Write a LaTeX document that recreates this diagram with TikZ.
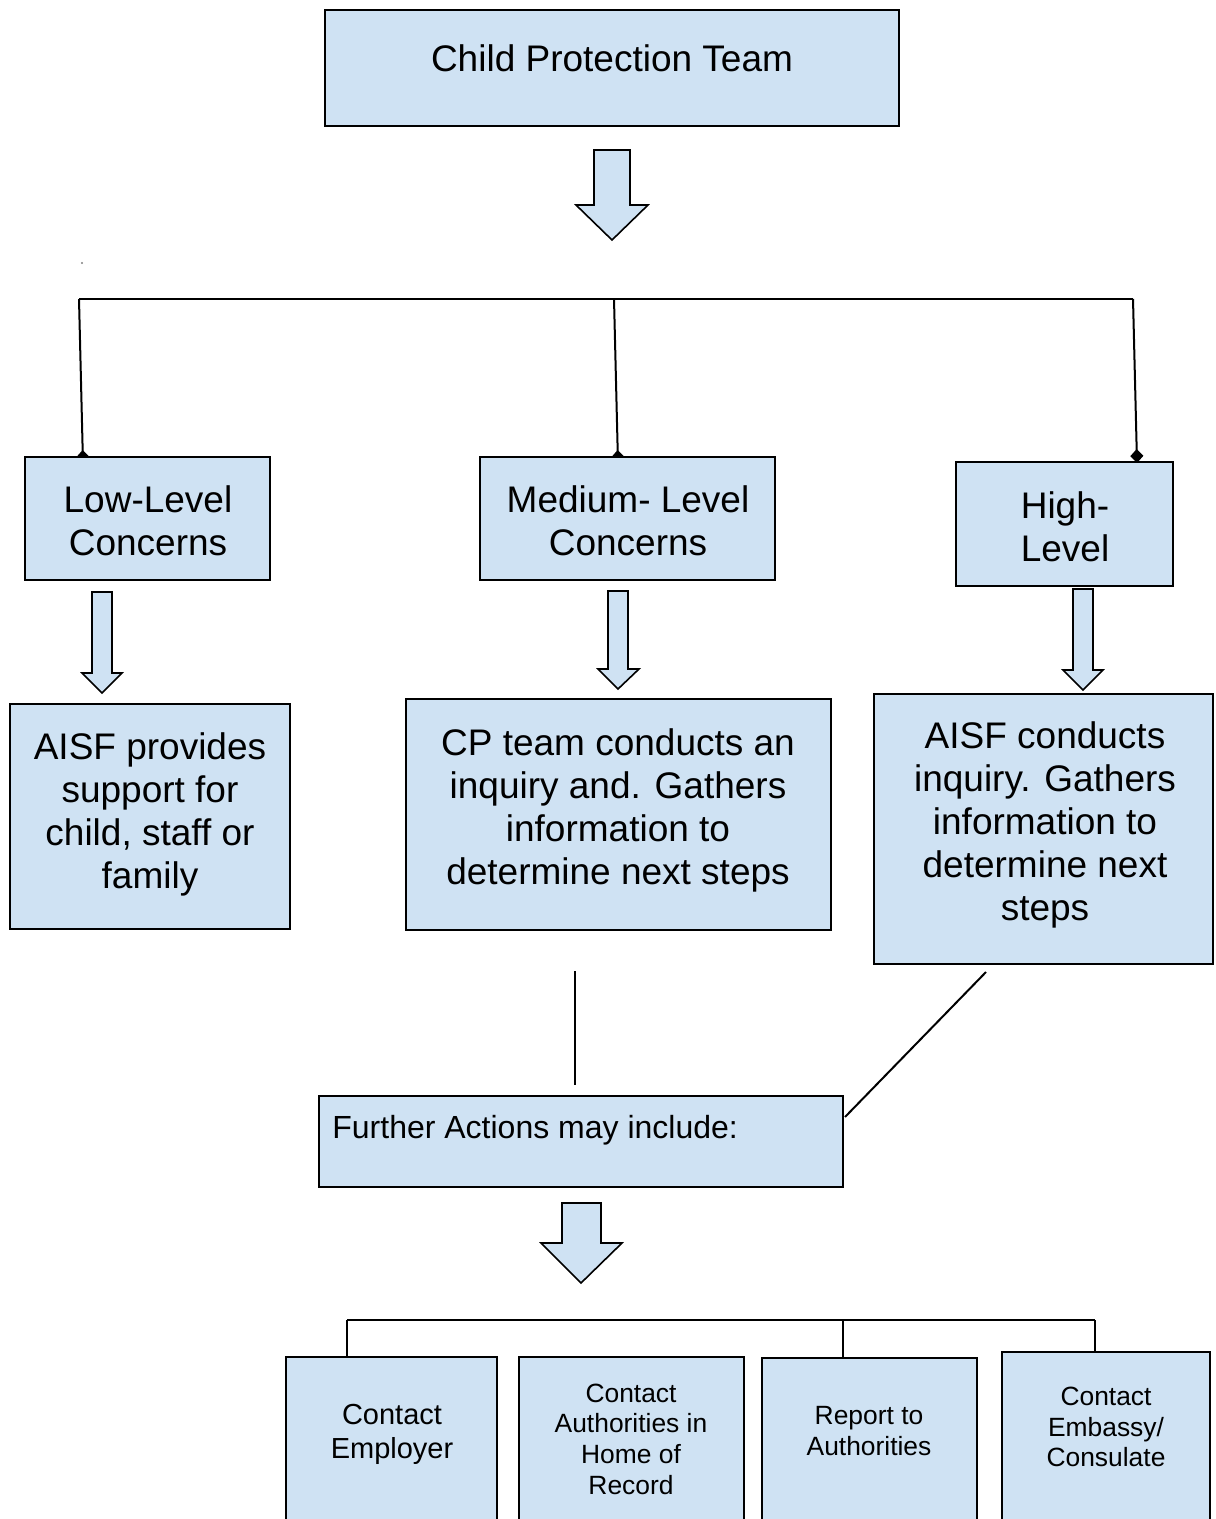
\documentclass[tikz,border=0pt]{standalone}
\usepackage{fontspec}
\setmainfont{Liberation Sans}
\usetikzlibrary{arrows.meta,fit}
\definecolor{boxblue}{HTML}{CFE2F3}
\pgfdeclarelayer{bg}
\pgfsetlayers{bg,main}
\tikzset{
  box/.style={draw=black, fill=boxblue, line width=1pt, rectangle, inner sep=0pt},
  bigtxt/.style={align=center, inner sep=0pt, font=\fontsize{18.5}{21.5}\selectfont},
  midtxt/.style={align=center, inner sep=0pt, font=\fontsize{16}{19}\selectfont},
  smltxt/.style={align=center, inner sep=0pt, font=\fontsize{14.5}{17}\selectfont},
  tinytxt/.style={align=center, inner sep=0pt, font=\fontsize{13.2}{15.3}\selectfont},
  blockarrow/.style={draw=black, fill=boxblue, line width=0.8pt, line join=miter},
  conn/.style={draw=black, line width=1pt},
  dconn/.style={conn, -{Diamond[length=7pt,width=6.5pt]}},
}
\begin{document}
\begin{tikzpicture}[x=0.5pt,y=-0.5pt]
\useasboundingbox (0,0) rectangle (1215,1519);
\clip (0,0) rectangle (1215,1519);

% boxes
\node[box, fit={(325,10) (899,126)}] (top) {};
\node[bigtxt] (toptxt) at (612,58) {Child Protection Team};

\node[box, fit={(25,457) (270,580)}] (low) {};
\node[bigtxt] (lowtxt) at (148,521) {Low-Level\\Concerns};
\node[box, fit={(480,457) (775,580)}] (med) {};
\node[bigtxt] (medtxt) at (628,521) {Medium- Level\\Concerns};
\node[box, fit={(956,462) (1173,586)}] (high) {};
\node[bigtxt] (hightxt) at (1065,527) {High-\\Level};

\node[box, fit={(10,704) (290,929)}] (aisfp) {};
\node[bigtxt] (aisfptxt) at (150,814) {AISF provides\\support for\\child, staff or\\family};
\node[box, fit={(406,699) (831,930)}] (cpteam) {};
\node[bigtxt] (cpteamtxt) at (618,810) {CP team conducts an\\inquiry and. Gathers\\information to\\determine next steps};
\node[box, fit={(874,694) (1213,964)}] (aisfc) {};
\node[bigtxt] (aisfctxt) at (1045,825) {AISF conducts\\inquiry. Gathers\\information to\\determine next\\steps};

\node[box, fit={(319,1096) (843,1187)}] (further) {};
\node[midtxt, anchor=west] (furthertxt) at (332,1130) {Further Actions may include:};

\node[box, fit={(286,1357) (497,1540)}] (emp) {};
\node[smltxt] (emptxt) at (392,1434) {Contact\\Employer};
\node[box, fit={(519,1357) (744,1540)}] (auth) {};
\node[tinytxt] (authtxt) at (631,1439) {Contact\\Authorities in\\Home of\\Record};
\node[box, fit={(762,1358) (977,1540)}] (rep) {};
\node[tinytxt] (reptxt) at (869,1431) {Report to\\Authorities};
\node[box, fit={(1002,1352) (1210,1540)}] (emb) {};
\node[tinytxt] (embtxt) at (1106,1427) {Contact\\Embassy/\\Consulate};

% block arrows
\draw[blockarrow] (594,150) -- (630,150) -- (630,205) -- (648,205) -- (612,240) -- (576,205) -- (594,205) -- cycle;
\draw[blockarrow] (92,592) -- (112,592) -- (112,673) -- (122,673) -- (102,693) -- (82,673) -- (92,673) -- cycle;
\draw[blockarrow] (608,591) -- (628,591) -- (628,669) -- (639,669) -- (618,689) -- (598,669) -- (608,669) -- cycle;
\draw[blockarrow] (1073,589) -- (1093,589) -- (1093,670) -- (1103,670) -- (1083,690) -- (1063,670) -- (1073,670) -- cycle;
\draw[blockarrow] (562,1203) -- (601,1203) -- (601,1243) -- (622,1243) -- (581,1283) -- (541,1243) -- (562,1243) -- cycle;

% connector coordinates
\coordinate (busL) at (79,299);
\coordinate (busM) at (614,299);
\coordinate (busR) at (1133,299);
\coordinate (lowin) at (83,464);
\coordinate (medin) at (618,464);
\coordinate (highin) at (1137,463);
\coordinate (cpfrom) at (575,971);
\coordinate (cpto) at (575,1085);
\coordinate (hifrom) at (986,972);
\coordinate (hito) at (845,1117);
\coordinate (bbusL) at (347,1320);
\coordinate (bbusM) at (843,1320);
\coordinate (bbusR) at (1095,1320);

\begin{pgfonlayer}{bg}
\draw[conn] (busL) -- (busR);
\draw[dconn] (busL) -- (lowin);
\draw[dconn] (busM) -- (medin);
\draw[dconn] (busR) -- (highin);
\draw[conn] (bbusL) -- (bbusR);
\draw[conn] (bbusL) -- (emp.north -| bbusL);
\draw[conn] (bbusM) -- (rep.north -| bbusM);
\draw[conn] (bbusR) -- ([yshift=-1.5pt]emb.north -| bbusR);
\end{pgfonlayer}
\draw[conn] (cpfrom) -- (cpto);
\draw[conn] (hifrom) -- (hito);

\fill[gray] (82,263) circle (0.6pt);
\end{tikzpicture}
\end{document}
